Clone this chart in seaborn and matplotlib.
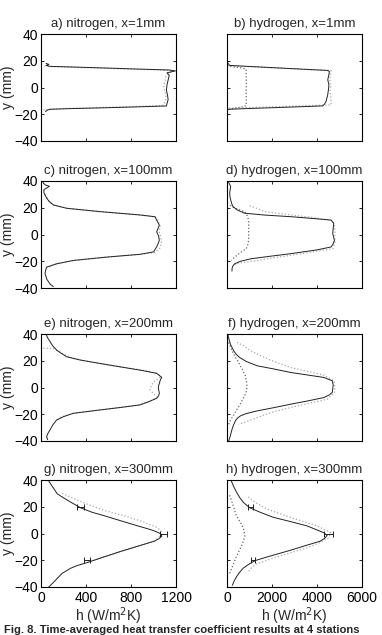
import numpy as np
import pandas as pd
import matplotlib
matplotlib.use("Agg")
import matplotlib.pyplot as plt
import seaborn as sns

# ---------------- data (h in W/m^2K, y in mm) ----------------
titles = ["a) nitrogen, x=1mm", "b) hydrogen, x=1mm",
          "c) nitrogen, x=100mm", "d) hydrogen, x=100mm",
          "e) nitrogen, x=200mm", "f) hydrogen, x=200mm",
          "g) nitrogen, x=300mm", "h) hydrogen, x=300mm"]

# panel a
a_sol_y = [18, 17.3, 16.5, 15.8, 15.2, 14.5, 13.8, 13.1, 12.4, 11.0, 9.0, 5.6, 2.0, -2.0, -6.0, -9.0, -12.0, -13.8, -14.5, -15.2, -15.8, -16.3, -17.0, -18.0]
a_sol_h = [45, 70, 45, 80, 330, 600, 850, 1140, 1195, 1120, 1140, 1130, 1120, 1115, 1125, 1130, 1120, 1115, 850, 550, 250, 80, 55, 40]
a_dot_y = [16.0, 15.5, 14.8, 14.0, 13.3, 12.6, 11.5, 8.0, 4.0, 0.0, -4.0, -8.0, -11.5, -13.5, -14.3, -15.0, -15.7, -16.3, -16.8]
a_dot_h = [30, 120, 400, 700, 1000, 1180, 1150, 1110, 1100, 1090, 1105, 1110, 1100, 1080, 800, 500, 200, 60, 20]

# panel b
b_sol_y = [19.5, 18.0, 16.5, 15.6, 14.6, 13.7, 12.75, 12.0, 9.0, 5.75, 2.0, -1.75, -6.0, -10.5, -12.5, -13.75, -14.6, -15.4, -16.25, -16.75]
b_sol_h = [0, 50, 118, 1160, 2320, 3370, 4478, 4552, 4520, 4478, 4530, 4508, 4470, 4400, 4330, 4257, 2900, 1500, 118, 0]
b_dot_y = [16.3, 15.4, 14.4, 13.4, 12.5, 10.0, 6.0, 2.0, -2.0, -6.0, -10.0, -13.0, -13.8, -14.6, -15.5]
b_dot_h = [40, 1200, 2400, 3600, 4626, 4600, 4560, 4620, 4580, 4600, 4620, 4626, 3200, 1700, 44]
b_in_y = [16.3, 15.4, 14.5, 13.5, 10, 5, 0, -5, -10, -13.5, -14.5, -15.5, -16.5]
b_in_h = [0, 300, 700, 857, 850, 860, 855, 850, 860, 857, 700, 300, 0]

# panel c
c_sol_y = [39.8, 38.5, 37.0, 36.0, 33.5, 30.9, 27.2, 24.5, 22.1, 19.6, 17.1, 14.6, 13.3, 10.8, 7.0, 4.5, 2.0, -1.0, -4.3, -7.0, -9.3, -13.0, -14.8, -16.9, -19.4, -21.9, -24.4, -27.0, -29.4, -31.5, -33.2, -37.0, -39.0]
c_sol_h = [15, 20, 40, 75, 25, 27, 50, 75, 110, 228, 524, 880, 1013, 1028, 1052, 1040, 1028, 1045, 1052, 1040, 1028, 1000, 880, 584, 287, 140, 50, 40, 36, 45, 50, 80, 110]
c_dot_y = [30, 25, 22, 19.6, 17.1, 14.6, 13.0, 10, 6, 2, -2, -6, -10, -13.5, -15, -17, -19.4, -22, -25]
c_dot_h = [40, 70, 115, 235, 530, 890, 1020, 1040, 1060, 1050, 1065, 1070, 1060, 1010, 870, 570, 290, 130, 55]

# panel d
d_sol_y = [39.7, 38, 36, 33.5, 31, 28.5, 26, 23.5, 20.9, 18.4, 15.9, 14.5, 13.3, 12, 10.8, 8.3, 4.5, 0.75, -2, -4.3, -7, -9.3, -11.5, -14.3, -16.3, -18.1, -20, -21.9, -23.8, -25.7, -27.4]
d_sol_h = [44, 100, 163, 140, 118, 130, 163, 200, 266, 450, 783, 1700, 2853, 3800, 4626, 4744, 4720, 4700, 4740, 4774, 4720, 4626, 4000, 2853, 1900, 1079, 600, 340, 250, 222, 222]
d_dot_y = [21.5, 20.0, 18.5, 17.1, 14.6, 12.5, 10.3, 6, 2, -2, -6, -10.6, -13, -15.6, -17.5, -19.4, -21.4, -23]
d_dot_h = [1005, 1250, 1500, 1670, 2853, 3900, 4700, 4780, 4800, 4790, 4800, 4700, 3800, 2853, 2000, 1375, 488, 300]
d_in_y = [22, 20.9, 19, 17.1, 14, 10.8, 5, 0, -4.3, -8, -10.6, -13.5, -16.9, -18.5, -19.4]
d_in_h = [150, 192, 450, 783, 900, 960, 965, 960, 960, 920, 857, 600, 340, 230, 192]

# panel e
e_sol_y = [40, 37, 34.4, 31, 28, 25.5, 23, 20.5, 18, 15.5, 13, 10.6, 7.6, 5.5, 3.1, 1.2, -0.6, -2.5, -4.4, -6.3, -8.1, -10.5, -13, -15, -16.8, -19.3, -21.8, -24.3, -28, -31.7, -34.2, -36.7, -39]
e_sol_h = [44, 60, 80, 105, 139, 180, 228, 350, 524, 700, 880, 1028, 1073, 1060, 1052, 1045, 1043, 1048, 1052, 1045, 1028, 960, 880, 700, 524, 287, 200, 139, 105, 80, 62, 50, 59]
e_dot_y = [29.3, 29.3, 27, 25, 22, 19, 16, 13, 10.5, 7.5, 5, 2, -1.8, -4.5, -7.5, -10, -13, -16, -19.3, -22, -25]
e_dot_h = [20, 110, 160, 200, 280, 450, 650, 900, 1040, 1058, 1010, 983, 969, 1000, 1030, 975, 880, 600, 287, 180, 130]

# panel f
f_sol_y = [40, 36, 32.5, 30, 27.5, 25, 22.5, 19.5, 16.25, 13.8, 11.25, 9.3, 7.5, 5, 2, -1, -3.75, -5.5, -7.5, -10, -12.5, -15, -17.5, -19.5, -21.25, -23, -25, -28, -31.25, -34, -36.25, -40]
f_sol_h = [30, 90, 148, 220, 297, 400, 560, 850, 1336, 2100, 2822, 3600, 4307, 4678, 4720, 4700, 4678, 4550, 4307, 3600, 2822, 2100, 1336, 850, 594, 460, 371, 290, 223, 180, 148, 74]
f_dot_y = [33.75, 31.25, 28, 25, 20, 15, 12, 9.25, 5, 0, -3.75, -8.75, -12, -15, -18.5, -22.5, -26.25, -27.5]
f_dot_h = [445, 742, 1000, 1336, 2000, 2822, 3600, 4307, 4752, 4800, 4780, 4455, 3600, 2822, 2000, 1336, 742, 520]
f_in_y = [33.75, 30.5, 27.5, 23, 18.75, 13.5, 8.75, 4, 0, -4, -7.5, -12, -16.25, -19.5, -22.5, -25, -27.5]
f_in_h = [74, 150, 223, 360, 520, 680, 817, 870, 891, 840, 742, 600, 445, 330, 223, 140, 74]

# panel g
g_sol_y = [39.2, 36.5, 33.7, 29.8, 27.3, 23.5, 19.2, 16, 13.3, 9.5, 5.7, 3.5, 1.9, 0, -1.9, -3.8, -5.7, -9.5, -13.3, -17.5, -21.7, -24, -26, -29.8, -33.7, -37.5, -40]
g_sol_h = [69, 90, 113, 143, 188, 263, 352, 450, 561, 710, 860, 950, 1009, 1060, 1075, 1050, 1009, 860, 711, 560, 412, 320, 263, 188, 143, 99, 69]
g_dot_y = [30, 27, 24, 21, 17, 13.3, 9, 4.4, 2, 0, -3, -6, -10, -14, -18, -21.7]
g_dot_h = [188, 270, 350, 440, 570, 740, 900, 1035, 1065, 1075, 1045, 1000, 845, 690, 540, 412]
g_err_y = [20, 0, -20]
g_err_h = [349, 1088, 410]
g_err_dh = [33, 34, 27]

# panel h
h_sol_y = [39.2, 35, 31.1, 27, 23.5, 21.3, 19.2, 15.5, 12.1, 9, 5.7, 3, 0.6, -1.4, -3.5, -5.7, -9, -12.6, -15.5, -18.4, -20, -21.7, -24, -26, -29, -32.4, -35.5, -38.7]
h_sol_h = [194, 300, 418, 560, 717, 860, 1015, 1530, 2060, 2800, 3553, 3950, 4300, 4449, 4350, 4150, 3500, 2807, 2200, 1612, 1300, 1090, 880, 717, 560, 418, 320, 239]
h_dot_y = [27.3, 23.5, 18.4, 12.1, 5.7, 0.6, -3.2, -7, -10.8, -14.5, -18.4, -22.7, -25.5, -28.6]
h_dot_h = [940, 1239, 1762, 2807, 4001, 4600, 4524, 4100, 3553, 2800, 2060, 1313, 1100, 940]
h_in_y = [28.6, 21, 13.3, 7, 2, -1.9, -5, -9.5, -17.1, -23.5, -29.8]
h_in_h = [120, 269, 418, 642, 760, 791, 740, 642, 418, 269, 120]
h_err_y = [20, 0, -20]
h_err_h = [1050, 4510, 1140]
h_err_dh = [110, 180, 95]

n_xticks = [0, 400, 800, 1200]
h2_xticks = [0, 2000, 4000, 6000]
y_ticks = [-40, -20, 0, 20, 40]
caption = "Fig. 8. Time-averaged heat transfer coefficient results at 4 stations"

# ---------------- style ----------------
sns.set_style("ticks")
plt.rcParams['font.family'] = ['Liberation Sans', 'DejaVu Sans']
plt.rcParams.update({
    'xtick.direction': 'in', 'ytick.direction': 'in',
    'xtick.top': True, 'ytick.right': True,
    'xtick.major.size': 2.5, 'ytick.major.size': 2.5,
    'xtick.major.width': 0.6, 'ytick.major.width': 0.6,
    'axes.linewidth': 0.8, 'axes.edgecolor': 'black',
    'xtick.color': 'black', 'ytick.color': 'black',
})

fig = plt.figure(figsize=(3.82, 6.35), dpi=100)

W, H = 382.0, 635.0
lefts = [41, 227]
tops = [34, 181, 334, 480]
aw, ah = 135, 107

panels = [
    dict(sol=(a_sol_h, a_sol_y), dot=(a_dot_h, a_dot_y)),
    dict(sol=(b_sol_h, b_sol_y), dot=(b_dot_h, b_dot_y), inn=(b_in_h, b_in_y)),
    dict(sol=(c_sol_h, c_sol_y), dot=(c_dot_h, c_dot_y)),
    dict(sol=(d_sol_h, d_sol_y), dot=(d_dot_h, d_dot_y), inn=(d_in_h, d_in_y)),
    dict(sol=(e_sol_h, e_sol_y), dot=(e_dot_h, e_dot_y)),
    dict(sol=(f_sol_h, f_sol_y), dot=(f_dot_h, f_dot_y), inn=(f_in_h, f_in_y)),
    dict(sol=(g_sol_h, g_sol_y), dot=(g_dot_h, g_dot_y), err=(g_err_h, g_err_y, g_err_dh)),
    dict(sol=(h_sol_h, h_sol_y), dot=(h_dot_h, h_dot_y), inn=(h_in_h, h_in_y), err=(h_err_h, h_err_y, h_err_dh)),
]

fs = 9.5
tfs = 10
for i, p in enumerate(panels):
    row, col = divmod(i, 2)
    left = lefts[col] / W
    bottom = 1 - (tops[row] + ah) / H
    ax = fig.add_axes([left, bottom, aw / W, ah / H])

    if 'inn' in p:
        df = pd.DataFrame({'h': p['inn'][0], 'y': p['inn'][1]})
        sns.lineplot(data=df, x='h', y='y', sort=False, estimator=None, ax=ax,
                     color='#666666', linestyle=':', linewidth=0.9)
    df = pd.DataFrame({'h': p['dot'][0], 'y': p['dot'][1]})
    sns.lineplot(data=df, x='h', y='y', sort=False, estimator=None, ax=ax,
                 color='#a8a8a8', linestyle=':', linewidth=0.9)
    df = pd.DataFrame({'h': p['sol'][0], 'y': p['sol'][1]})
    sns.lineplot(data=df, x='h', y='y', sort=False, estimator=None, ax=ax,
                 color='#222222', linestyle='-', linewidth=0.7)
    if 'err' in p:
        eh, ey, edh = p['err']
        ax.errorbar(eh, ey, xerr=edh, fmt='none', ecolor='#222222',
                    elinewidth=0.7, capsize=2.5, capthick=0.7)

    xt = n_xticks if col == 0 else h2_xticks
    ax.set_xlim(xt[0], xt[-1])
    ax.set_ylim(-40, 40)
    ax.set_xticks(xt)
    ax.set_yticks(y_ticks)
    ax.set_title(titles[i], fontsize=fs, pad=5)
    ax.tick_params(axis='x', labelsize=tfs, pad=3)
    ax.tick_params(axis='y', labelsize=tfs, pad=2)
    if row == 3:
        ax.set_xticklabels([str(v) for v in xt])
        ax.set_xlabel("h (W/m$^2$K)", fontsize=tfs, labelpad=0)
    else:
        ax.set_xticklabels([])
        ax.set_xlabel("")
    if col == 0:
        ax.set_ylabel("y (mm)", fontsize=tfs)
        ax.yaxis.set_label_coords(-0.19, 0.5)
    else:
        ax.set_yticklabels([])
        ax.set_ylabel("")
    for s in ax.spines.values():
        s.set_visible(True)

fig.text(4 / W, 1 - 633 / H, caption, ha='left', va='baseline',
         fontsize=8.1, fontweight='bold')

fig.savefig("out.png", dpi=100)
